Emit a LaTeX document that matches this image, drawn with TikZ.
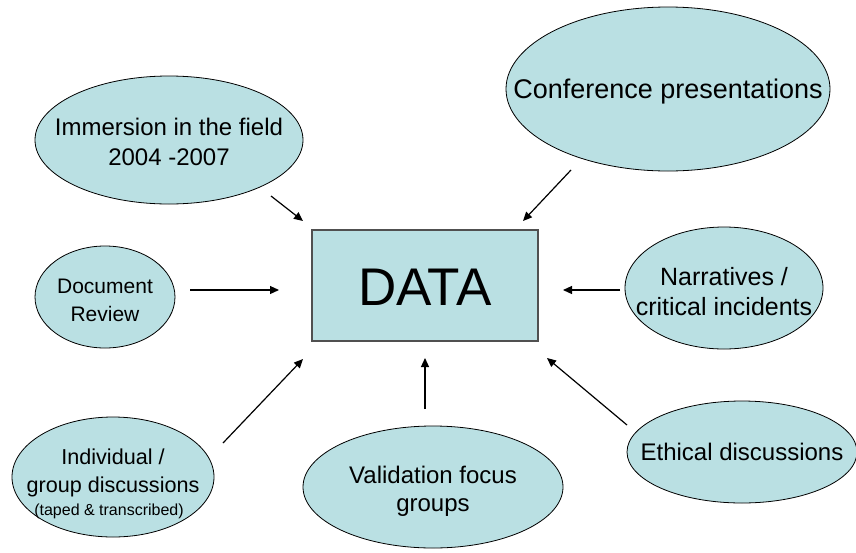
\documentclass[tikz,border=0pt]{standalone}
\usepackage{fontspec}
\setmainfont{Liberation Sans}
\usetikzlibrary{shapes.geometric,arrows.meta}
\definecolor{blobfill}{RGB}{186,224,227}
\definecolor{boxline}{RGB}{80,80,80}
\begin{document}
\begin{tikzpicture}[x=1pt,y=-1pt,
 blob/.style={ellipse, draw=black, line width=0.8pt, fill=blobfill, inner sep=0pt},
 lbl/.style={align=center, inner sep=0pt, text=black},
 arr/.style={line width=1.2pt, -{Triangle[length=9pt,width=8pt]}},
]
\useasboundingbox (0,0) rectangle (856,552);
\fill[white] (0,0) rectangle (856,552);

% central box
\node[draw=boxline, line width=1.3pt, fill=blobfill, minimum width=226pt, minimum height=111pt, inner sep=0pt] (data) at (425,285.5) {};
\node[lbl, font=\fontsize{53}{60}\selectfont] (datat) at (425,287) {DATA};

% ellipses
\node[blob, minimum width=324pt, minimum height=164pt] (conf) at (668,89) {};
\node[lbl, font=\fontsize{27}{32}\selectfont] (conft) at (668,92) {Conference presentations};

\node[blob, minimum width=268pt, minimum height=128pt] (imm) at (169,140) {};
\node[lbl, font=\fontsize{24}{30}\selectfont] (immt) at (169,142) {Immersion in the field\\2004 -2007};

\node[blob, minimum width=140pt, minimum height=102pt] (doc) at (105,297) {};
\node[lbl, font=\fontsize{21}{28}\selectfont] (doct) at (105,300) {Document\\Review};

\node[blob, minimum width=198pt, minimum height=122pt] (narr) at (724,288) {};
\node[lbl, font=\fontsize{25}{30}\selectfont] (narrt) at (724,292) {Narratives /\\critical incidents};

\node[blob, minimum width=230pt, minimum height=102pt] (eth) at (742,452) {};
\node[lbl, font=\fontsize{24}{28}\selectfont] (etht) at (742,452) {Ethical discussions};

\node[blob, minimum width=260pt, minimum height=122pt] (val) at (433,487) {};
\node[lbl, font=\fontsize{24}{28}\selectfont] (valt) at (433,491) {Validation focus\\groups};

\node[blob, minimum width=202pt, minimum height=120pt] (ind) at (113,477) {};
\node[lbl, font=\fontsize{21.6}{28}\selectfont] (indt) at (113,473) {Individual /\\group discussions};
\node[lbl, font=\fontsize{16}{19}\selectfont] (indt2) at (109,511) {(taped \& transcribed)};

% arrow end points
\coordinate (s1) at (271,196); \coordinate (e1) at (303,221);
\coordinate (s2) at (571,170); \coordinate (e2) at (523,221);
\coordinate (s3) at (190,290); \coordinate (e3) at (279,290);
\coordinate (s4) at (620,290); \coordinate (e4) at (563,290);
\coordinate (s5) at (223,443); \coordinate (e5) at (303,359);
\coordinate (s6) at (425,409); \coordinate (e6) at (425,358);
\coordinate (s7) at (627,425); \coordinate (e7) at (547,358);

\draw[arr] (s1) -- (e1);
\draw[arr] (s2) -- (e2);
\draw[arr] (s3) -- (e3);
\draw[arr] (s4) -- (e4);
\draw[arr] (s5) -- (e5);
\draw[arr] (s6) -- (e6);
\draw[arr] (s7) -- (e7);
\end{tikzpicture}
\end{document}
